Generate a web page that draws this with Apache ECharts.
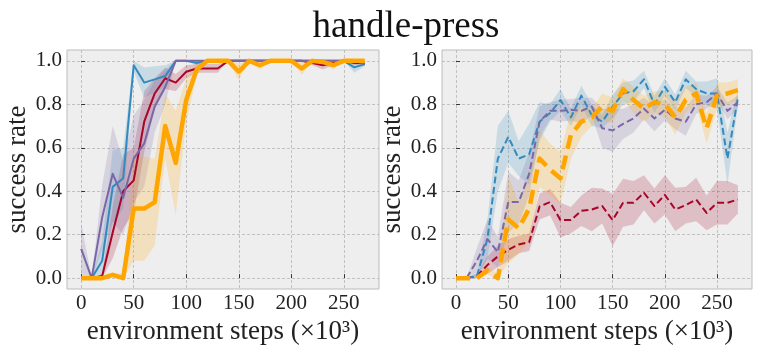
<!DOCTYPE html>
<html>
<head>
<meta charset="utf-8">
<script src="https://cdn.jsdelivr.net/npm/echarts@6/dist/echarts.min.js"></script>
<style>
  html, body { margin: 0; padding: 0; background: #fff; }
  #main { width: 761px; height: 355px; }
</style>
</head>
<body>
<div id="main"></div>
<script>
// x positions (environment steps, x10^3)
var steps = [0, 10, 20, 30, 40, 50, 60, 70, 80, 90, 100, 110, 120, 130, 140, 150, 160, 170, 180, 190, 200, 210, 220, 230, 240, 250, 260, 270];
var xTicks = [0, 50, 100, 150, 200, 250];
var yTicks = [0, 0.2, 0.4, 0.6, 0.8, 1.0];

// left panel (solid lines)
var leftOrange   = [0, 0, 0, 0.015, 0, 0.32, 0.32, 0.35, 0.70, 0.53, 0.82, 0.96, 1, 1, 1, 0.95, 1, 0.98, 1, 1, 1, 0.965, 1, 0.995, 0.98, 1, 1, 1];
var leftOrangeSd = [0, 0, 0, 0.01, 0.02, 0.24, 0.24, 0.2, 0.15, 0.24, 0.1, 0.03, 0, 0, 0, 0.04, 0, 0.02, 0, 0, 0, 0.03, 0, 0.01, 0.02, 0, 0, 0];
var leftRed      = [0, 0, 0.01, 0.21, 0.40, 0.45, 0.72, 0.85, 0.92, 0.90, 0.95, 0.965, 0.965, 0.965, 1, 1, 1, 1, 1, 1, 1, 1, 0.99, 0.98, 0.99, 1, 0.99, 0.99];
var leftRedSd    = [0, 0, 0.01, 0.12, 0.17, 0.15, 0.14, 0.07, 0.05, 0.04, 0.03, 0.02, 0.02, 0.02, 0, 0, 0, 0, 0, 0, 0, 0, 0.01, 0.02, 0.01, 0, 0.01, 0.01];
var leftBlue     = [0, 0, 0.08, 0.42, 0.46, 0.98, 0.90, 0.915, 0.93, 1, 1, 0.99, 1, 1, 1, 1, 1, 1, 1, 1, 1, 1, 1, 1, 1, 1, 0.97, 0.985];
var leftBlueSd   = [0, 0, 0.09, 0.17, 0.14, 0.03, 0.07, 0.06, 0.05, 0, 0, 0.01, 0, 0, 0, 0, 0, 0, 0, 0, 0, 0, 0, 0, 0, 0, 0.025, 0.01];
var leftPurple   = [0.135, 0, 0.28, 0.48, 0.37, 0.55, 0.62, 0.79, 0.88, 1, 1, 1, 1, 1, 1, 1, 1, 1, 1, 1, 1, 1, 1, 1, 1, 1, 1, 0.985];
var leftPurpleSd = [0.12, 0, 0.15, 0.22, 0.17, 0.2, 0.2, 0.12, 0.08, 0, 0, 0, 0, 0, 0, 0, 0, 0, 0, 0, 0, 0, 0, 0, 0, 0, 0, 0];

// right panel (dashed lines)
var rightOrange   = [0, 0, 0, 0.035, 0, 0.27, 0.23, 0.32, 0.55, 0.50, 0.46, 0.66, 0.72, 0.74, 0.79, 0.77, 0.87, 0.82, 0.78, 0.81, 0.80, 0.74, 0.82, 0.85, 0.69, 0.84, 0.85, 0.865];
var rightOrangeSd = [0, 0, 0, 0.02, 0.02, 0.2, 0.12, 0.15, 0.13, 0.12, 0.12, 0.11, 0.07, 0.04, 0.06, 0.06, 0.05, 0.06, 0.06, 0.05, 0.06, 0.08, 0.06, 0.05, 0.07, 0.06, 0.05, 0.05];
var rightRed      = [0, 0, 0.01, 0.06, 0.10, 0.13, 0.155, 0.165, 0.33, 0.35, 0.267, 0.267, 0.31, 0.316, 0.332, 0.267, 0.347, 0.347, 0.393, 0.332, 0.383, 0.316, 0.336, 0.362, 0.30, 0.347, 0.347, 0.362];
var rightRedSd    = [0, 0, 0.01, 0.04, 0.05, 0.05, 0.04, 0.04, 0.06, 0.06, 0.08, 0.06, 0.07, 0.1, 0.08, 0.12, 0.11, 0.1, 0.08, 0.08, 0.09, 0.1, 0.085, 0.1, 0.08, 0.1, 0.1, 0.065];
var rightBlue     = [0, 0, 0.01, 0.18, 0.55, 0.65, 0.55, 0.57, 0.72, 0.76, 0.82, 0.74, 0.84, 0.75, 0.72, 0.79, 0.85, 0.86, 0.915, 0.80, 0.88, 0.81, 0.915, 0.87, 0.85, 0.85, 0.55, 0.83];
var rightBlueSd   = [0, 0, 0.01, 0.09, 0.15, 0.12, 0.08, 0.14, 0.09, 0.04, 0.05, 0.04, 0.045, 0.05, 0.03, 0.055, 0.05, 0.05, 0.04, 0.04, 0.04, 0.035, 0.04, 0.035, 0.055, 0.07, 0.12, 0.035];
var rightPurple   = [0, 0, 0.08, 0.18, 0.12, 0.35, 0.35, 0.48, 0.72, 0.77, 0.77, 0.775, 0.77, 0.79, 0.69, 0.68, 0.71, 0.735, 0.78, 0.735, 0.775, 0.735, 0.72, 0.80, 0.81, 0.85, 0.77, 0.81];
var rightPurpleSd = [0, 0, 0.06, 0.09, 0.07, 0.14, 0.1, 0.1, 0.07, 0.04, 0.05, 0.05, 0.06, 0.04, 0.09, 0.1, 0.07, 0.065, 0.05, 0.06, 0.05, 0.05, 0.065, 0.045, 0.03, 0.03, 0.04, 0.03];

var ORANGE = '#FFA500', RED = '#A60628', BLUE = '#348ABD', PURPLE = '#7A68A6';
var FONT = '"Liberation Serif", "DejaVu Serif", serif';

var myChart = echarts.init(document.getElementById('main'));

// shaded spread around a mean curve
function band(gi, mean, sd, color) {
  return {
    type: 'custom', xAxisIndex: gi, yAxisIndex: gi, silent: true, z: 1,
    data: [0],
    renderItem: function (params, api) {
      var top = [], bottom = [];
      for (var i = 0; i < steps.length; i++) {
        top.push(api.coord([steps[i], Math.min(1, mean[i] + sd[i])]));
        bottom.unshift(api.coord([steps[i], Math.max(0, mean[i] - sd[i])]));
      }
      return {
        type: 'polygon',
        shape: { points: top.concat(bottom) },
        style: { fill: color, opacity: 0.2 }
      };
    }
  };
}

function line(gi, values, color, width, dash) {
  return {
    type: 'line', xAxisIndex: gi, yAxisIndex: gi, z: 3, silent: true,
    data: steps.map(function (x, i) { return [x, values[i]]; }),
    symbol: 'none', showSymbol: false,
    lineStyle: { color: color, width: width, type: dash || 'solid', join: 'round' },
    itemStyle: { color: color }
  };
}

function xAxisFor(gi) {
  return {
    type: 'value', gridIndex: gi, min: -13.5, max: 283.5, minInterval: 50, maxInterval: 50,
    name: 'environment steps (×10³)', nameLocation: 'middle', nameGap: 28,
    nameTextStyle: { fontFamily: FONT, fontSize: 27, color: '#222' },
    axisLine: { show: false },
    axisTick: { show: true, inside: true, length: 4, customValues: xTicks, lineStyle: { color: '#333' } },
    axisLabel: { customValues: xTicks, fontFamily: FONT, fontSize: 21, color: '#222', margin: 4 },
    splitLine: { show: true, lineStyle: { color: '#b5b5b5', type: [3, 2], width: 0.8 } }
  };
}

function yAxisFor(gi) {
  return {
    type: 'value', gridIndex: gi, min: -0.05, max: 1.05, minInterval: 0.2, maxInterval: 0.2,
    name: 'success rate', nameLocation: 'middle', nameGap: 34,
    nameTextStyle: { fontFamily: FONT, fontSize: 27, color: '#222' },
    axisLine: { show: false },
    axisTick: { show: true, inside: true, length: 4, customValues: yTicks, lineStyle: { color: '#333' } },
    axisLabel: {
      customValues: yTicks, fontFamily: FONT, fontSize: 21, color: '#222', margin: 5,
      formatter: function (v) { return v.toFixed(1); }
    },
    splitLine: { show: true, lineStyle: { color: '#b5b5b5', type: [3, 2], width: 0.8 } }
  };
}

var option = {
  animation: false,
  backgroundColor: '#ffffff',
  graphic: [{
    type: 'text', x: 406, y: 27, silent: true,
    style: { text: 'handle-press', font: '37px ' + FONT, fill: '#111', textAlign: 'center', textVerticalAlign: 'middle' }
  }],
  grid: [
    { left: 67, top: 50, width: 312, height: 239, show: true, backgroundColor: '#eeeeee', borderColor: '#bcbcbc', borderWidth: 1 },
    { left: 442, top: 50, width: 310, height: 239, show: true, backgroundColor: '#eeeeee', borderColor: '#bcbcbc', borderWidth: 1 }
  ],
  xAxis: [xAxisFor(0), xAxisFor(1)],
  yAxis: [yAxisFor(0), yAxisFor(1)],
  series: [
    band(0, leftRed, leftRedSd, RED),
    band(0, leftBlue, leftBlueSd, BLUE),
    band(0, leftPurple, leftPurpleSd, PURPLE),
    band(0, leftOrange, leftOrangeSd, ORANGE),
    line(0, leftRed, RED, 2),
    line(0, leftBlue, BLUE, 2),
    line(0, leftPurple, PURPLE, 2),
    line(0, leftOrange, ORANGE, 4.5),

    band(1, rightRed, rightRedSd, RED),
    band(1, rightBlue, rightBlueSd, BLUE),
    band(1, rightPurple, rightPurpleSd, PURPLE),
    band(1, rightOrange, rightOrangeSd, ORANGE),
    line(1, rightRed, RED, 2, [7, 3.5]),
    line(1, rightBlue, BLUE, 2, [7, 3.5]),
    line(1, rightPurple, PURPLE, 2, [7, 3.5]),
    line(1, rightOrange, ORANGE, 4.5, [14, 7])
  ]
};

myChart.setOption(option);
</script>
</body>
</html>
